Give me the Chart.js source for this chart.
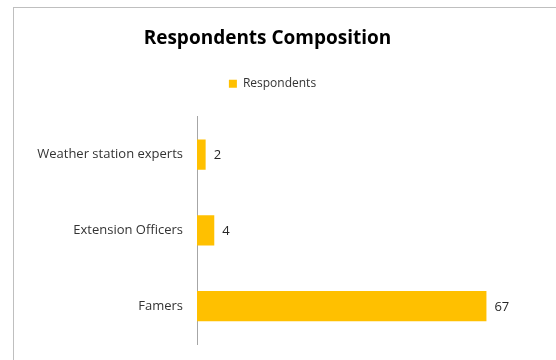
<!DOCTYPE html>
<html>
<head>
<meta charset="utf-8">
<script src="https://cdn.jsdelivr.net/npm/chart.js@4"></script>
<style>
  html, body { margin: 0; padding: 0; background: #fff; overflow: hidden; }
  #frame {
    position: absolute; left: 13px; top: 7px;
    width: 700px; height: 500px;
    border: 1px solid #bfbfbf;
  }
  #wrap { position: absolute; left: 0; top: 0; width: 556px; height: 360px; }
</style>
</head>
<body>
<div id="frame"></div>
<div id="wrap"><canvas id="chart" width="556" height="360"></canvas></div>
<script>
// Datos del gráfico
const categories = ['Weather station experts', 'Extension Officers', 'Famers'];
const respondents = [2, 4, 67];
const seriesName = 'Respondents';

// Espacio extra debajo de la leyenda y pequeño desplazamiento a la derecha
const legendGap = {
    id: 'legendGap',
    beforeInit(chart) {
        const originalFit = chart.legend.fit;
        chart.legend.fit = function () {
            originalFit.bind(chart.legend)();
            this.height += 17;
        };
    },
    afterLayout(chart) {
        chart.legend.left += 5;
        chart.legend.right += 5;
    }
};

// Etiquetas de valor al final de cada barra
const valueLabels = {
    id: 'valueLabels',
    afterDatasetsDraw(chart) {
        const ctx = chart.ctx;
        const meta = chart.getDatasetMeta(0);
        ctx.save();
        ctx.font = '13px "Open Sans"';
        ctx.fillStyle = '#262626';
        ctx.textAlign = 'left';
        ctx.textBaseline = 'middle';
        meta.data.forEach((bar, i) => {
            ctx.fillText(String(chart.data.datasets[0].data[i]), bar.x + 8, bar.y + 1);
        });
        ctx.restore();
    }
};

const ctx = document.getElementById('chart').getContext('2d');
new Chart(ctx, {
    type: 'bar',
    data: {
        labels: categories,
        datasets: [{
            label: seriesName,
            data: respondents,
            backgroundColor: '#FFC000',
            borderWidth: 0,
            categoryPercentage: 0.4,
            barPercentage: 1.0
        }]
    },
    options: {
        indexAxis: 'y',
        responsive: false,
        animation: false,
        layout: {
            padding: { left: 14, right: 35, top: 0, bottom: 16 }
        },
        scales: {
            x: {
                display: false,
                min: 0,
                max: 75
            },
            y: {
                // sin líneas de rejilla; tickLength solo separa las etiquetas del eje
                grid: { display: false, drawTicks: true, tickLength: 13 },
                border: { display: true, color: '#a6a6a6', width: 1 },
                ticks: {
                    padding: 1,
                    color: '#333333',
                    font: { family: 'Open Sans', size: 13 }
                },
                afterFit(scale) {
                    scale.width = 183;
                }
            }
        },
        plugins: {
            title: {
                display: true,
                text: 'Respondents Composition',
                color: '#000',
                font: { family: 'Open Sans', size: 19, weight: 'bold' },
                padding: { top: 27, bottom: 20 }
            },
            legend: {
                display: true,
                position: 'top',
                labels: {
                    boxWidth: 8,
                    boxHeight: 8,
                    padding: 8,
                    color: '#333333',
                    font: { family: 'Open Sans', size: 12 }
                }
            },
            tooltip: { enabled: false }
        }
    },
    plugins: [legendGap, valueLabels]
});
</script>
</body>
</html>
